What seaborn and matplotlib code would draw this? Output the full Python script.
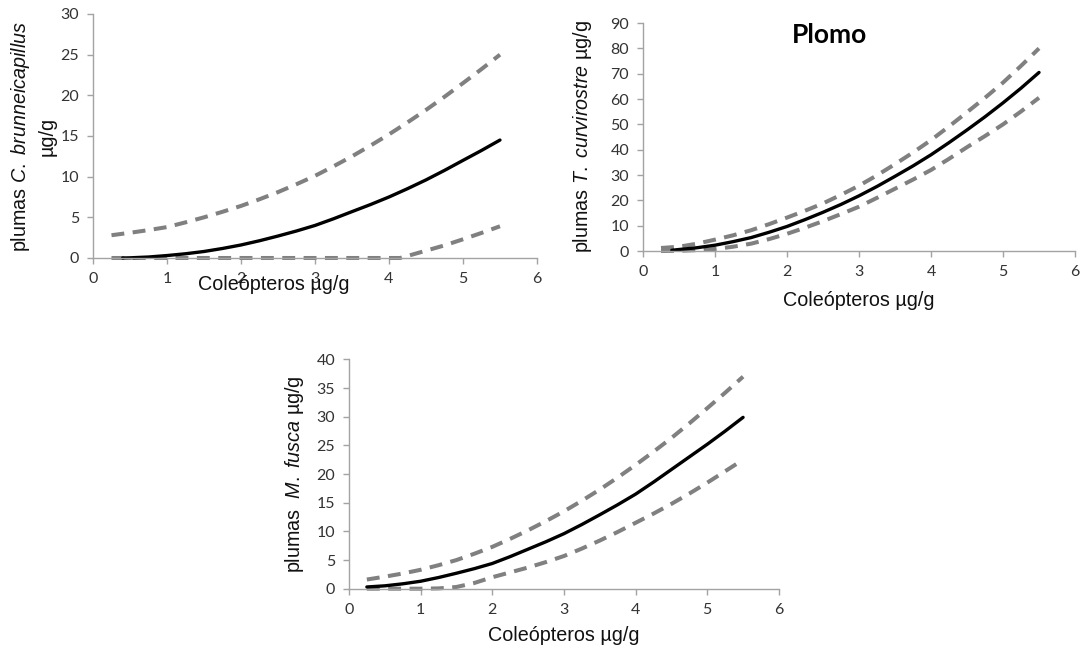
import matplotlib
matplotlib.use("Agg")
import matplotlib.pyplot as plt
import numpy as np
import pandas as pd
import seaborn as sns

# ---- data: fitted curve (mid) with upper/lower confidence bands ----
x_q = [0.25, 0.5, 0.75, 1.0, 1.25, 1.5, 1.75, 2.0, 2.25, 2.5, 2.75, 3.0,
       3.25, 3.5, 3.75, 4.0, 4.25, 4.5, 4.75, 5.0, 5.25, 5.5]
x_q_late = [0.4, 0.5, 0.75, 1.0, 1.25, 1.5, 1.75, 2.0, 2.25, 2.5, 2.75, 3.0,
            3.25, 3.5, 3.75, 4.0, 4.25, 4.5, 4.75, 5.0, 5.25, 5.5]

# C. brunneicapillus
cb_mid = [0.0, 0.02, 0.12, 0.3, 0.52, 0.8, 1.17, 1.6, 2.12, 2.7, 3.32, 4.0,
          4.82, 5.7, 6.57, 7.5, 8.52, 9.6, 10.77, 12.0, 13.22, 14.5]
cb_upper = [2.8, 3.1, 3.43, 3.8, 4.38, 5.0, 5.68, 6.4, 7.22, 8.1, 9.07, 10.1,
            11.27, 12.5, 13.82, 15.2, 16.67, 18.2, 19.82, 21.5, 23.22, 25.0]
cb_lower_x = [0.25, 1.0, 2.0, 3.0, 4.0, 4.15, 4.25, 4.5, 4.75, 5.0, 5.25, 5.5]
cb_lower = [0.0, 0.0, 0.0, 0.0, 0.0, 0.0, 0.25, 0.9, 1.55, 2.3, 3.08, 3.9]

# T. curvirostre
tc_mid = [0.3, 0.6, 1.3, 2.3, 3.7, 5.3, 7.4, 9.7, 12.4, 15.3, 18.4, 21.8,
          25.5, 29.5, 33.6, 38.0, 42.8, 47.8, 53.0, 58.5, 64.3, 70.5]
tc_upper = [1.2, 1.7, 2.9, 4.5, 6.2, 8.2, 10.6, 13.2, 15.9, 18.8, 22.2, 25.8,
            29.9, 34.3, 38.9, 43.8, 49.2, 54.8, 60.5, 66.5, 73.1, 80.0]
tc_lower = [0.0, 0.1, 0.35, 0.8, 1.7, 2.9, 4.7, 6.8, 9.2, 11.8, 14.6, 17.5,
            21.0, 24.6, 28.2, 32.0, 36.4, 41.0, 45.4, 50.0, 55.1, 60.5]

# M. fusca
mf_mid = [0.3, 0.5, 0.85, 1.3, 1.95, 2.7, 3.5, 4.4, 5.6, 6.9, 8.2, 9.6,
          11.2, 12.9, 14.65, 16.5, 18.6, 20.8, 23.0, 25.2, 27.5, 29.9]
mf_upper = [1.6, 2.1, 2.65, 3.3, 4.1, 5.0, 6.1, 7.3, 8.7, 10.2, 11.8, 13.5,
            15.35, 17.3, 19.4, 21.6, 23.9, 26.3, 28.85, 31.5, 34.2, 37.0]
mf_lower = [0.0, 0.0, 0.0, 0.0, 0.05, 0.3, 1.0, 2.0, 2.85, 3.7, 4.65, 5.7,
            7.0, 8.4, 9.9, 11.5, 13.1, 14.8, 16.6, 18.5, 20.5, 22.5]

x_ticks = [0, 1, 2, 3, 4, 5, 6]
title_text = "Plomo"
x_label = "Coleópteros µg/g"
y_labels = {
    "cb": "plumas $\\mathit{C.}$ $\\mathit{brunneicapillus}$\nµg/g",
    "tc": "plumas $\\mathit{T.}$ $\\mathit{curvirostre}$ µg/g",
    "mf": "plumas  $\\mathit{M.}$ $\\mathit{fusca}$ µg/g",
}

# ---- style ----
sns.set_theme(style="white")
plt.rcParams["font.family"] = ["Lato", "DejaVu Sans"]
plt.rcParams["mathtext.fontset"] = "custom"
plt.rcParams["mathtext.rm"] = "Liberation Sans"
plt.rcParams["mathtext.it"] = "Liberation Sans:italic"

SPINE = "#a3a3a3"
BAND = "#808080"
TICKC = "#333333"
LABEL_FONT = ["Liberation Sans", "DejaVu Sans"]


def long_frame(mid_x, mid_y, up_x, up_y, lo_x, lo_y):
    parts = [
        pd.DataFrame({"x": up_x, "y": up_y, "curve": "upper"}),
        pd.DataFrame({"x": lo_x, "y": lo_y, "curve": "lower"}),
        pd.DataFrame({"x": mid_x, "y": mid_y, "curve": "mid"}),
    ]
    return pd.concat(parts, ignore_index=True)


def draw_panel(ax, df, ymax, ystep, ylabel, ylab_x, xlab_xy):
    sns.lineplot(
        data=df, x="x", y="y", hue="curve", style="curve", size="curve",
        palette={"mid": "black", "upper": BAND, "lower": BAND},
        dashes={"mid": "", "upper": (3.2, 2.1), "lower": (3.2, 2.1)},
        sizes={"mid": 2.4, "upper": 2.9, "lower": 2.9},
        sort=False, estimator=None, legend=False, ax=ax,
    )
    for ln in ax.lines:
        ln.set_clip_on(False)
        ln.set_dash_capstyle("butt")
        ln.set_solid_joinstyle("round")
    ax.set_xlim(0, 6)
    ax.set_ylim(0, ymax)
    yt = np.arange(0, ymax + 0.1, ystep)
    ax.set_xticks(x_ticks)
    ax.set_yticks(yt)
    ax.set_xticklabels([str(t) for t in x_ticks])
    ax.set_yticklabels([str(int(t)) for t in yt])
    for side in ("top", "right"):
        ax.spines[side].set_visible(False)
    for side in ("left", "bottom"):
        ax.spines[side].set_color(SPINE)
        ax.spines[side].set_linewidth(1.0)
    ax.tick_params(axis="both", direction="out", length=4, width=1.0,
                   color=SPINE, labelcolor=TICKC, labelsize=11.5, pad=6,
                   left=True, bottom=True)
    ax.set_xlabel(x_label, fontsize=14.2, color="#111111", family=LABEL_FONT)
    ax.xaxis.label.set_va("center")
    ax.xaxis.set_label_coords(*xlab_xy)
    ax.set_ylabel(ylabel, fontsize=14.2, color="#111111", family=LABEL_FONT,
                  linespacing=1.35)
    ax.yaxis.label.set_va("center")
    ax.yaxis.label.set_ha("center")
    ax.yaxis.set_label_coords(ylab_x, 0.5)
    ax.set_facecolor("white")


fig = plt.figure(figsize=(10.8, 6.51), dpi=100)
fig.patch.set_facecolor("white")

ax1 = fig.add_axes([0.0861, 0.6037, 0.4111, 0.3748])
ax2 = fig.add_axes([0.5954, 0.6144, 0.4000, 0.3502])
ax3 = fig.add_axes([0.3231, 0.0957, 0.3981, 0.3521])

draw_panel(ax1, long_frame(x_q_late, cb_mid, x_q, cb_upper, cb_lower_x, cb_lower),
           30, 5, y_labels["cb"], -0.135, (0.408, -0.107))
draw_panel(ax2, long_frame(x_q_late, tc_mid, x_q, tc_upper, x_q, tc_lower),
           90, 10, y_labels["tc"], -0.139, (0.5, -0.215))
draw_panel(ax3, long_frame(x_q, mf_mid, x_q, mf_upper, x_q, mf_lower),
           40, 5, y_labels["mf"], -0.126, (0.5, -0.202))

fig.text(0.7685, 0.946, title_text, fontsize=19, fontweight="bold",
         ha="center", va="center", color="black")

fig.savefig("out.png", dpi=100, facecolor="white")
